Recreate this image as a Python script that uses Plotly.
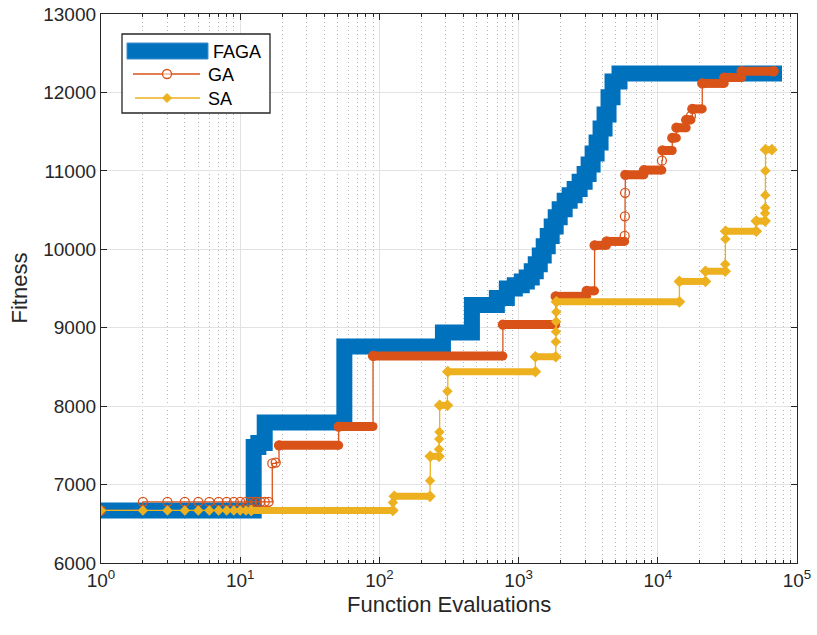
import plotly.graph_objects as go

# Best-so-far fitness against the number of function evaluations.
# Each value holds from its x until the next x; the last x is where the run ends.
faga_x = [1, 12.5, 13.5, 15, 56, 286, 462, 698, 823, 939, 1054, 1145, 1243, 1328, 1419,
          1515, 1619, 1729, 1847, 1973, 2143, 2327, 2527, 2744, 2981, 3184, 3401, 3633,
          3880, 4145, 4427, 4729, 5309, 78000]
faga_y = [6670, 7480, 7530, 7790, 8760, 8940, 9290, 9380, 9500, 9540, 9590, 9640, 9720, 9810, 9920,
          10040, 10170, 10290, 10410, 10510, 10620, 10690, 10770, 10860, 10960, 11080, 11220, 11360,
          11540, 11720, 11940, 12140, 12240, 12240]

ga_x = [1, 2, 3, 4, 5, 6, 7, 8, 9, 10, 11, 12, 13, 14, 15, 16,
        17, 18, 19, 51, 90, 771, 1847, 3080, 3514, 4285, 5780, 5800, 5820, 5840, 7950,
        10700, 10800, 12700, 13600, 16000, 17300, 17700, 20860, 30000, 40000, 68000]
ga_y = [6670, 6780, 6780, 6780, 6780, 6780, 6780, 6780, 6780, 6780, 6780, 6780, 6780, 6780, 6780, 6780,
        7270, 7280, 7500, 7740, 8640, 9040, 9400, 9470, 10050, 10100, 10170, 10420, 10720, 10950, 11010,
        11130, 11260, 11420, 11550, 11650, 11700, 11790, 12115, 12190, 12270, 12270]

sa_x = [1, 2, 3, 4, 5, 6, 7, 8, 9, 10, 11, 12,
        125, 128, 231, 232, 268, 269, 270, 271, 308, 310, 1320, 1850, 1855, 1860, 1865, 1870,
        14300, 22000, 30500, 30600, 30700, 51000, 59000, 59100, 59200, 59300, 59400, 66000]
sa_y = [6670, 6670, 6670, 6670, 6670, 6670, 6670, 6670, 6670, 6670, 6670, 6670,
        6770, 6850, 7050, 7360, 7450, 7580, 7670, 8010, 8190, 8440, 8630, 8820, 8950, 9080, 9200, 9330,
        9590, 9720, 9810, 10130, 10230, 10360, 10460, 10530, 10690, 11000, 11270, 11270]

x_tick_vals = [1, 10, 100, 1000, 10000, 100000]
x_tick_text = ["10<sup>0</sup>", "10<sup>1</sup>", "10<sup>2</sup>", "10<sup>3</sup>",
               "10<sup>4</sup>", "10<sup>5</sup>"]

BLUE = "#0072BD"
ORANGE = "#D95319"
YELLOW = "#EDB120"
AXIS = "#262626"
FONT = "Liberation Sans, Arial, sans-serif"

W, H = 817, 635
L, R, T, B = 101, 20, 14, 72


def band(xs, ys, start):
    """Horizontal runs where the per-evaluation markers merge into a solid band."""
    bx, by = [], []
    for i in range(len(xs) - 1):
        if xs[i] >= start and xs[i + 1] / xs[i] >= 1.03:
            bx += [xs[i], xs[i + 1], None]
            by += [ys[i], ys[i], None]
    return bx, by


fig = go.Figure()

fig.add_trace(go.Scatter(x=faga_x, y=faga_y, mode="lines", name="FAGA",
                         line=dict(color=BLUE, width=16, shape="hv")))

gbx, gby = band(ga_x, ga_y, 19)
fig.add_trace(go.Scatter(x=gbx, y=gby, mode="lines+markers", hoverinfo="skip",
                         line=dict(color=ORANGE, width=9),
                         marker=dict(symbol="circle", size=9, color=ORANGE)))
fig.add_trace(go.Scatter(x=ga_x, y=ga_y, mode="lines+markers", name="GA",
                         line=dict(color=ORANGE, width=1.3, shape="hv"),
                         marker=dict(symbol="circle-open", size=9, color=ORANGE,
                                     line=dict(width=1.3, color=ORANGE))))

sbx, sby = band(sa_x, sa_y, 12)
fig.add_trace(go.Scatter(x=sbx, y=sby, mode="lines+markers", hoverinfo="skip",
                         line=dict(color=YELLOW, width=7),
                         marker=dict(symbol="diamond", size=9, color=YELLOW)))
fig.add_trace(go.Scatter(x=sa_x, y=sa_y, mode="lines+markers", name="SA",
                         line=dict(color=YELLOW, width=1.3, shape="hv"),
                         marker=dict(symbol="diamond", size=8, color=YELLOW)))

minor_vals = [k * 10 ** d for d in range(5) for k in range(2, 10)]

fig.update_xaxes(type="log", range=[0, 5], automargin=False,
                 tickmode="array", tickvals=x_tick_vals, ticktext=x_tick_text,
                 showgrid=True, gridcolor="#e2e2e2", gridwidth=1,
                 ticks="inside", ticklen=6, tickcolor=AXIS, tickwidth=1,
                 showline=True, linecolor=AXIS, linewidth=1.3, mirror="allticks",
                 zeroline=False,
                 tickfont=dict(family=FONT, size=19, color=AXIS),
                 minor=dict(tickmode="array", tickvals=minor_vals, showgrid=True,
                            gridcolor="#b8b8b8", griddash="1px,3px", gridwidth=1,
                            ticks="inside", ticklen=3, tickcolor=AXIS))
fig.update_yaxes(range=[6000, 13000], dtick=1000, tickformat="d", automargin=False,
                 showgrid=True, gridcolor="#e2e2e2", gridwidth=1,
                 ticks="inside", ticklen=6, tickcolor=AXIS, tickwidth=1,
                 showline=True, linecolor=AXIS, linewidth=1.3, mirror="allticks",
                 zeroline=False,
                 tickfont=dict(family=FONT, size=19, color=AXIS))

pw, ph = W - L - R, H - T - B


def px(x):
    return (x - L) / pw


def py(y):
    return (H - B - y) / ph


shapes = [
    # legend box
    dict(type="rect", xref="paper", yref="paper", x0=px(122), x1=px(270), y0=py(113), y1=py(34),
         line=dict(color=AXIS, width=1.3), fillcolor="white", layer="above"),
    dict(type="rect", xref="paper", yref="paper", x0=px(127), x1=px(208), y0=py(59), y1=py(43),
         line=dict(color="#3d8fcf", width=1), fillcolor=BLUE, layer="above"),
    dict(type="line", xref="paper", yref="paper", x0=px(133), x1=px(200), y0=py(74), y1=py(74),
         line=dict(color=ORANGE, width=1.5), layer="above"),
    dict(type="circle", xref="paper", yref="paper", xsizemode="pixel", ysizemode="pixel",
         xanchor=px(167), yanchor=py(74), x0=-4.5, x1=4.5, y0=-4.5, y1=4.5,
         line=dict(color=ORANGE, width=1.3), fillcolor="rgba(255,255,255,0.6)", layer="above"),
    dict(type="line", xref="paper", yref="paper", x0=px(135), x1=px(200), y0=py(98), y1=py(98),
         line=dict(color=YELLOW, width=1.5), layer="above"),
    dict(type="path", xref="paper", yref="paper", xsizemode="pixel", ysizemode="pixel",
         xanchor=px(167), yanchor=py(98), path="M -4.5,0 L 0,4.5 L 4.5,0 L 0,-4.5 Z",
         line=dict(color=YELLOW, width=1), fillcolor=YELLOW, layer="above"),
]

annotations = [
    dict(text="FAGA", x=px(211), y=py(52), xref="paper", yref="paper", xanchor="left",
         yanchor="middle", showarrow=False, font=dict(family=FONT, size=18, color="black")),
    dict(text="GA", x=px(206), y=py(75), xref="paper", yref="paper", xanchor="left",
         yanchor="middle", showarrow=False, font=dict(family=FONT, size=18, color="black")),
    dict(text="SA", x=px(206), y=py(99), xref="paper", yref="paper", xanchor="left",
         yanchor="middle", showarrow=False, font=dict(family=FONT, size=18, color="black")),
    dict(text="Function Evaluations", x=0.5, y=py(604), xref="paper", yref="paper",
         xanchor="center", yanchor="middle", showarrow=False,
         font=dict(family=FONT, size=22, color=AXIS)),
    dict(text="Fitness", x=px(19), y=0.5, xref="paper", yref="paper", textangle=-90,
         xanchor="center", yanchor="middle", showarrow=False,
         font=dict(family=FONT, size=22, color=AXIS)),
]

fig.update_layout(width=W, height=H, margin=dict(l=L, r=R, t=T, b=B),
                  paper_bgcolor="white", plot_bgcolor="white",
                  showlegend=False, shapes=shapes, annotations=annotations)

fig.write_html("out.html")
